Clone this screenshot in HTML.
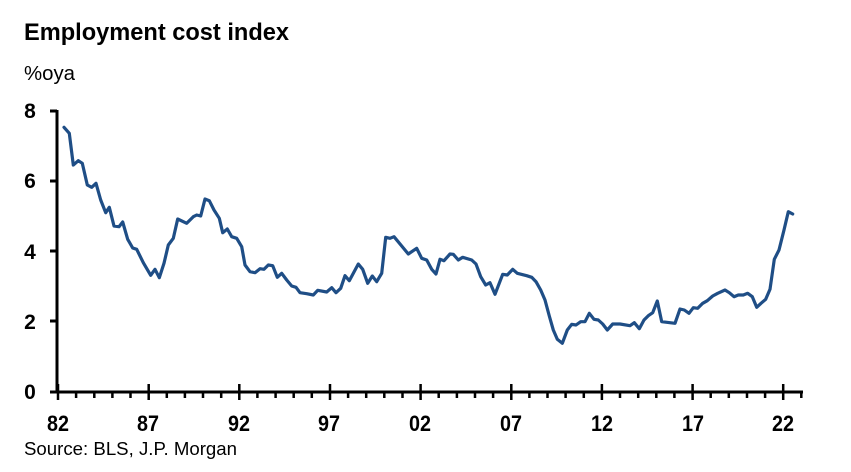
<!DOCTYPE html>
<html><head><meta charset="utf-8"><style>
html,body{margin:0;padding:0;background:#fff;}
svg{display:block;font-family:"Liberation Sans",Arial,sans-serif;}
</style></head><body>
<svg width="851" height="472" viewBox="0 0 851 472">
<text x="24" y="40" font-size="24" font-weight="bold" textLength="265" lengthAdjust="spacingAndGlyphs">Employment cost index</text>
<text x="24" y="80" font-size="20" textLength="51" lengthAdjust="spacingAndGlyphs">%oya</text>
<g font-size="21" font-weight="bold" text-anchor="middle">
<text x="30" y="118">8</text><text x="30" y="188">6</text><text x="30" y="259">4</text><text x="30" y="329">2</text><text x="30" y="399">0</text>
</g>
<g font-size="22" font-weight="bold">
<text x="47" y="431" textLength="22" lengthAdjust="spacingAndGlyphs">82</text>
<text x="137" y="431" textLength="22" lengthAdjust="spacingAndGlyphs">87</text>
<text x="228" y="431" textLength="22" lengthAdjust="spacingAndGlyphs">92</text>
<text x="318" y="431" textLength="22" lengthAdjust="spacingAndGlyphs">97</text>
<text x="409" y="431" textLength="22" lengthAdjust="spacingAndGlyphs">02</text>
<text x="500" y="431" textLength="22" lengthAdjust="spacingAndGlyphs">07</text>
<text x="591" y="431" textLength="22" lengthAdjust="spacingAndGlyphs">12</text>
<text x="682" y="431" textLength="22" lengthAdjust="spacingAndGlyphs">17</text>
<text x="772" y="431" textLength="22" lengthAdjust="spacingAndGlyphs">22</text>
</g>
<text x="24" y="455" font-size="18" textLength="213" lengthAdjust="spacingAndGlyphs">Source: BLS, J.P. Morgan</text>
<g stroke="#000" stroke-width="3" fill="none">
<line x1="57" y1="110" x2="57" y2="393"/>
<line x1="55" y1="392" x2="803" y2="392"/>
<line x1="50" y1="111" x2="57" y2="111"/><line x1="50" y1="181" x2="57" y2="181"/><line x1="50" y1="251" x2="57" y2="251"/><line x1="50" y1="321" x2="57" y2="321"/><line x1="50" y1="392" x2="57" y2="392"/>
</g>
<path stroke="#000" stroke-width="2.5" fill="none" d="
M58,384V400 M148.7,384V400 M239.3,384V400 M330,384V400 M420.6,384V400 M511.3,384V400 M601.9,384V400 M692.6,384V400 M783.2,384V400
M76.1,392V398 M94.3,392V398 M112.4,392V398 M130.5,392V398
M166.8,392V398 M184.9,392V398 M203,392V398 M221.2,392V398
M257.4,392V398 M275.6,392V398 M293.7,392V398 M311.8,392V398
M348.1,392V398 M366.2,392V398 M384.3,392V398 M402.5,392V398
M438.7,392V398 M456.9,392V398 M475,392V398 M493.1,392V398
M529.4,392V398 M547.5,392V398 M565.6,392V398 M583.8,392V398
M620,392V398 M638.2,392V398 M656.3,392V398 M674.4,392V398
M710.7,392V398 M728.8,392V398 M747,392V398 M765.1,392V398
M801.3,392V398"/>
<polyline fill="none" stroke="#1f4e86" stroke-width="3.2" stroke-linejoin="round" stroke-linecap="round" points="
64,127.3 69.3,133.3 73.3,165 78.3,160.7 82.3,163.3 87.3,185 91.7,187.3 96,183.3 100.7,200 105.7,212.7 109.3,207.3 114,226 119,226.7 122.7,222 127.7,239.3 132.7,248 136.7,249.3 143.3,262.7 150.7,275.3 155,269.3 159.3,277.7 164,263.3 168.3,245 173.3,238.3 177.7,219 186.7,223.3 193.3,216.7 196.7,215 200.7,216 205,199 209.3,200.7 214,210 219.3,218.3 222.7,232.7 227.3,229 231.7,236.7 236.7,238.3 241.7,246.7 245,265 250,271.7 255,272.7 260,268.7 264,269.3 268.3,265 272.7,265.7 277.3,277.3 281.7,273.3 286.7,280 291.7,286 296,287.3 300,292.7 306.7,293.7 313.3,295 317.7,290.3 326.7,292 331.7,287.7 336,292.7 340.7,288.3 345,275.7 349.3,280.7 358.3,264 362.7,269.3 367.7,283.3 372.3,276 376.7,281.7 381.7,273.3 385.7,237.3 390,238.3 394,236.7 401.7,246 408.3,254 416.7,248.3 421.7,258.3 426.7,260 431.7,269.3 436,274 440,259.3 444,260.7 450,254 453.3,254.3 458.3,260 462.7,257.3 471.7,260 476,264 480.7,276.7 485.7,285 490,282.7 495,294.3 502.7,274.3 507.3,275 512.7,269.3 517.3,273.3 526.7,275.7 531.7,277.3 536,281.7 540.7,290 545,300 549.3,316 553.3,330 557.3,339.3 562.3,343.3 567.3,330 571.7,324.3 576,325 580.7,321.7 585,321.7 589.3,313.3 594,319.3 598.3,320 602.7,324 607.3,330 612.7,324 620,324 630,325.7 634.3,322.7 639.3,328.7 644,320 648.3,315.7 652.7,312.7 657.3,301 661.7,321.7 675,323.3 680,309 684.3,310 689,313.3 693.3,307.7 697.7,308.3 702.7,303.3 707.3,300.7 712.7,296 717.7,293.3 725,290 729.3,292.7 734,296.7 738.3,295 743.3,295 747.7,293.3 752.3,296.7 756.7,307.3 761,303.3 765.7,299.3 770,289.3 774.3,259.3 779,250 784,230 788.3,211.7 792.7,214"/>
</svg>
</body></html>
